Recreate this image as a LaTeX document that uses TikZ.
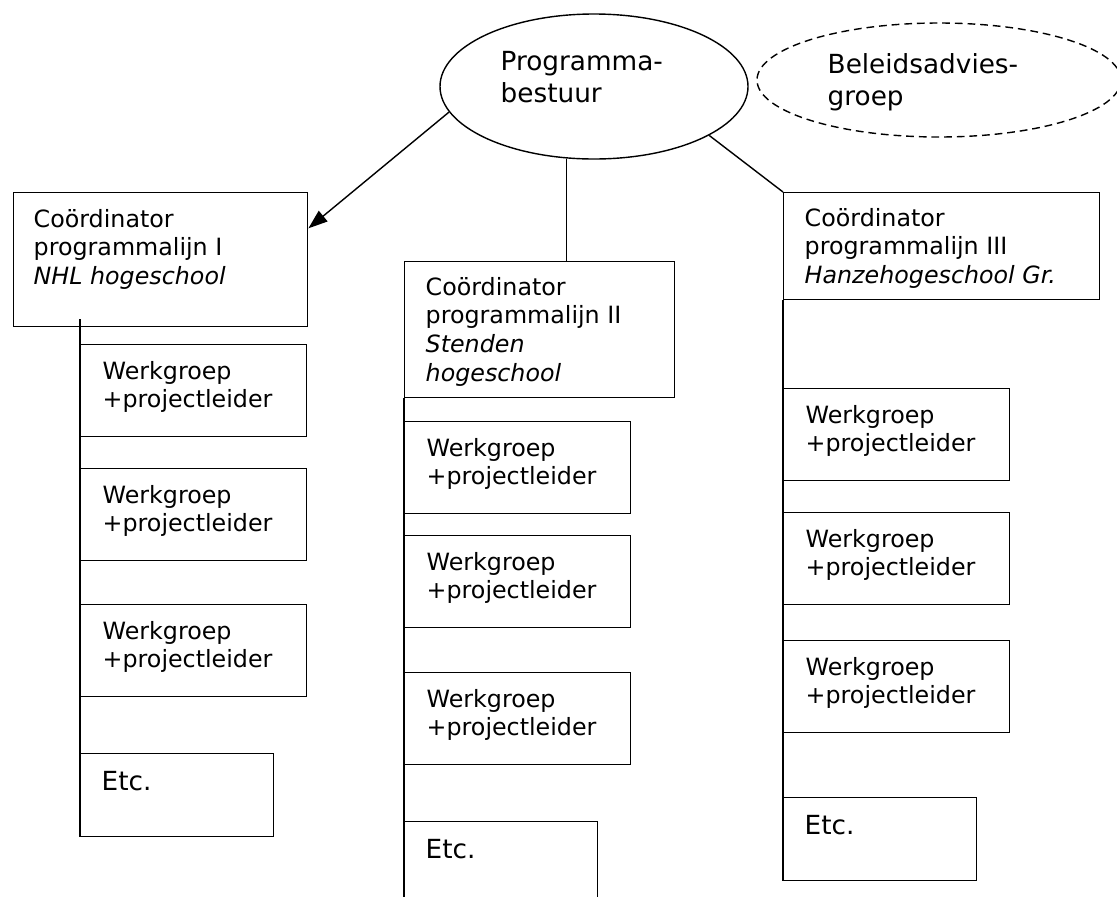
\documentclass[tikz,border=0pt]{standalone}
\usepackage{fontspec}
\setmainfont{DejaVu Sans}
\usetikzlibrary{shapes.geometric,arrows.meta}

% regels onder elkaar, basislijn van de eerste regel
\newcommand{\regels}[1]{\begin{tabular}[t]{@{}l@{}}#1\end{tabular}}

\tikzset{
  box/.style={draw, inner sep=0, anchor=north west},
  wg/.style={minimum width=226*\px cm, minimum height=92*\px cm},
  etcbox/.style={minimum width=193*\px cm, minimum height=83*\px cm},
  txt/.style={inner sep=0, anchor=base west, font=\fontsize{16.9}{20.6}\selectfont},
  bigtxt/.style={txt, font=\fontsize{18.7}{22.8}\selectfont},
}

\begin{document}
\begin{tikzpicture}[x=0.025cm, y=-0.025cm, line width=1pt]
  \pgfmathsetmacro{\px}{0.025}
  \useasboundingbox (0,0) rectangle (1117,896);
  \clip (0,0) rectangle (1117,896);

  % bestuur en adviesgroep
  \node[draw, ellipse, inner sep=0, minimum width=308*\px cm, minimum height=145*\px cm] (prog) at (594,86.5) {};
  \node[bigtxt] (progtxt) at (500,70) {\regels{Programma-\\bestuur}};
  \node[draw, ellipse, dash pattern=on 5.5pt off 3.5pt, inner sep=0, minimum width=364*\px cm, minimum height=114*\px cm] (advies) at (939,80) {};
  \node[bigtxt] (adviestxt) at (827,73) {\regels{Beleidsadvies-\\groep}};

  % coordinatoren
  \node[box, minimum width=294*\px cm, minimum height=134*\px cm] (c1) at (13,192) {};
  \node[txt] (c1txt) at (33,227) {\regels{Coördinator\\programmalijn I\\\itshape NHL hogeschool}};
  \node[box, minimum width=270*\px cm, minimum height=136*\px cm] (c2) at (404,261) {};
  \node[txt] (c2txt) at (425,295) {\regels{Coördinator\\programmalijn II\\\itshape Stenden\\\itshape hogeschool}};
  \node[box, minimum width=316*\px cm, minimum height=107*\px cm] (c3) at (783,192) {};
  \node[txt] (c3txt) at (804,226) {\regels{Coördinator\\programmalijn III\\\itshape Hanzehogeschool Gr.}};

  % werkgroepen per lijn
  \foreach \col/\x/\ya/\yb/\yc/\ye in {1/80/344/468/604/753, 2/404/421/535/672/821, 3/783/388/512/640/797}{
    \foreach \y/\n in {\ya/a,\yb/b,\yc/c}{
      \node[box, wg] (w\col\n) at (\x,\y) {};
      \node[txt] (w\col\n txt) at (\x+22,\y+35) {\regels{Werkgroep\\+projectleider}};
    }
    \node[box, etcbox] (e\col) at (\x,\ye) {};
    \node[bigtxt] (e\col txt) at (\x+21,\ye+37) {Etc.};
  }

  % lijnen
  \draw[-{Triangle[length=0.48cm,width=0.34cm]}] (prog.190) -- (c1.12);
  \draw (prog.249) -- (prog.249 |- c2.north);
  \draw (prog.337) -- (c3.north west);

  \draw (w1a.north west |- c1.south) ++(0,-8) -- (e1.south west);
  \draw (c2.south west) -- (e2.south west);
  \draw (c3.south west) -- (e3.south west);
\end{tikzpicture}
\end{document}
